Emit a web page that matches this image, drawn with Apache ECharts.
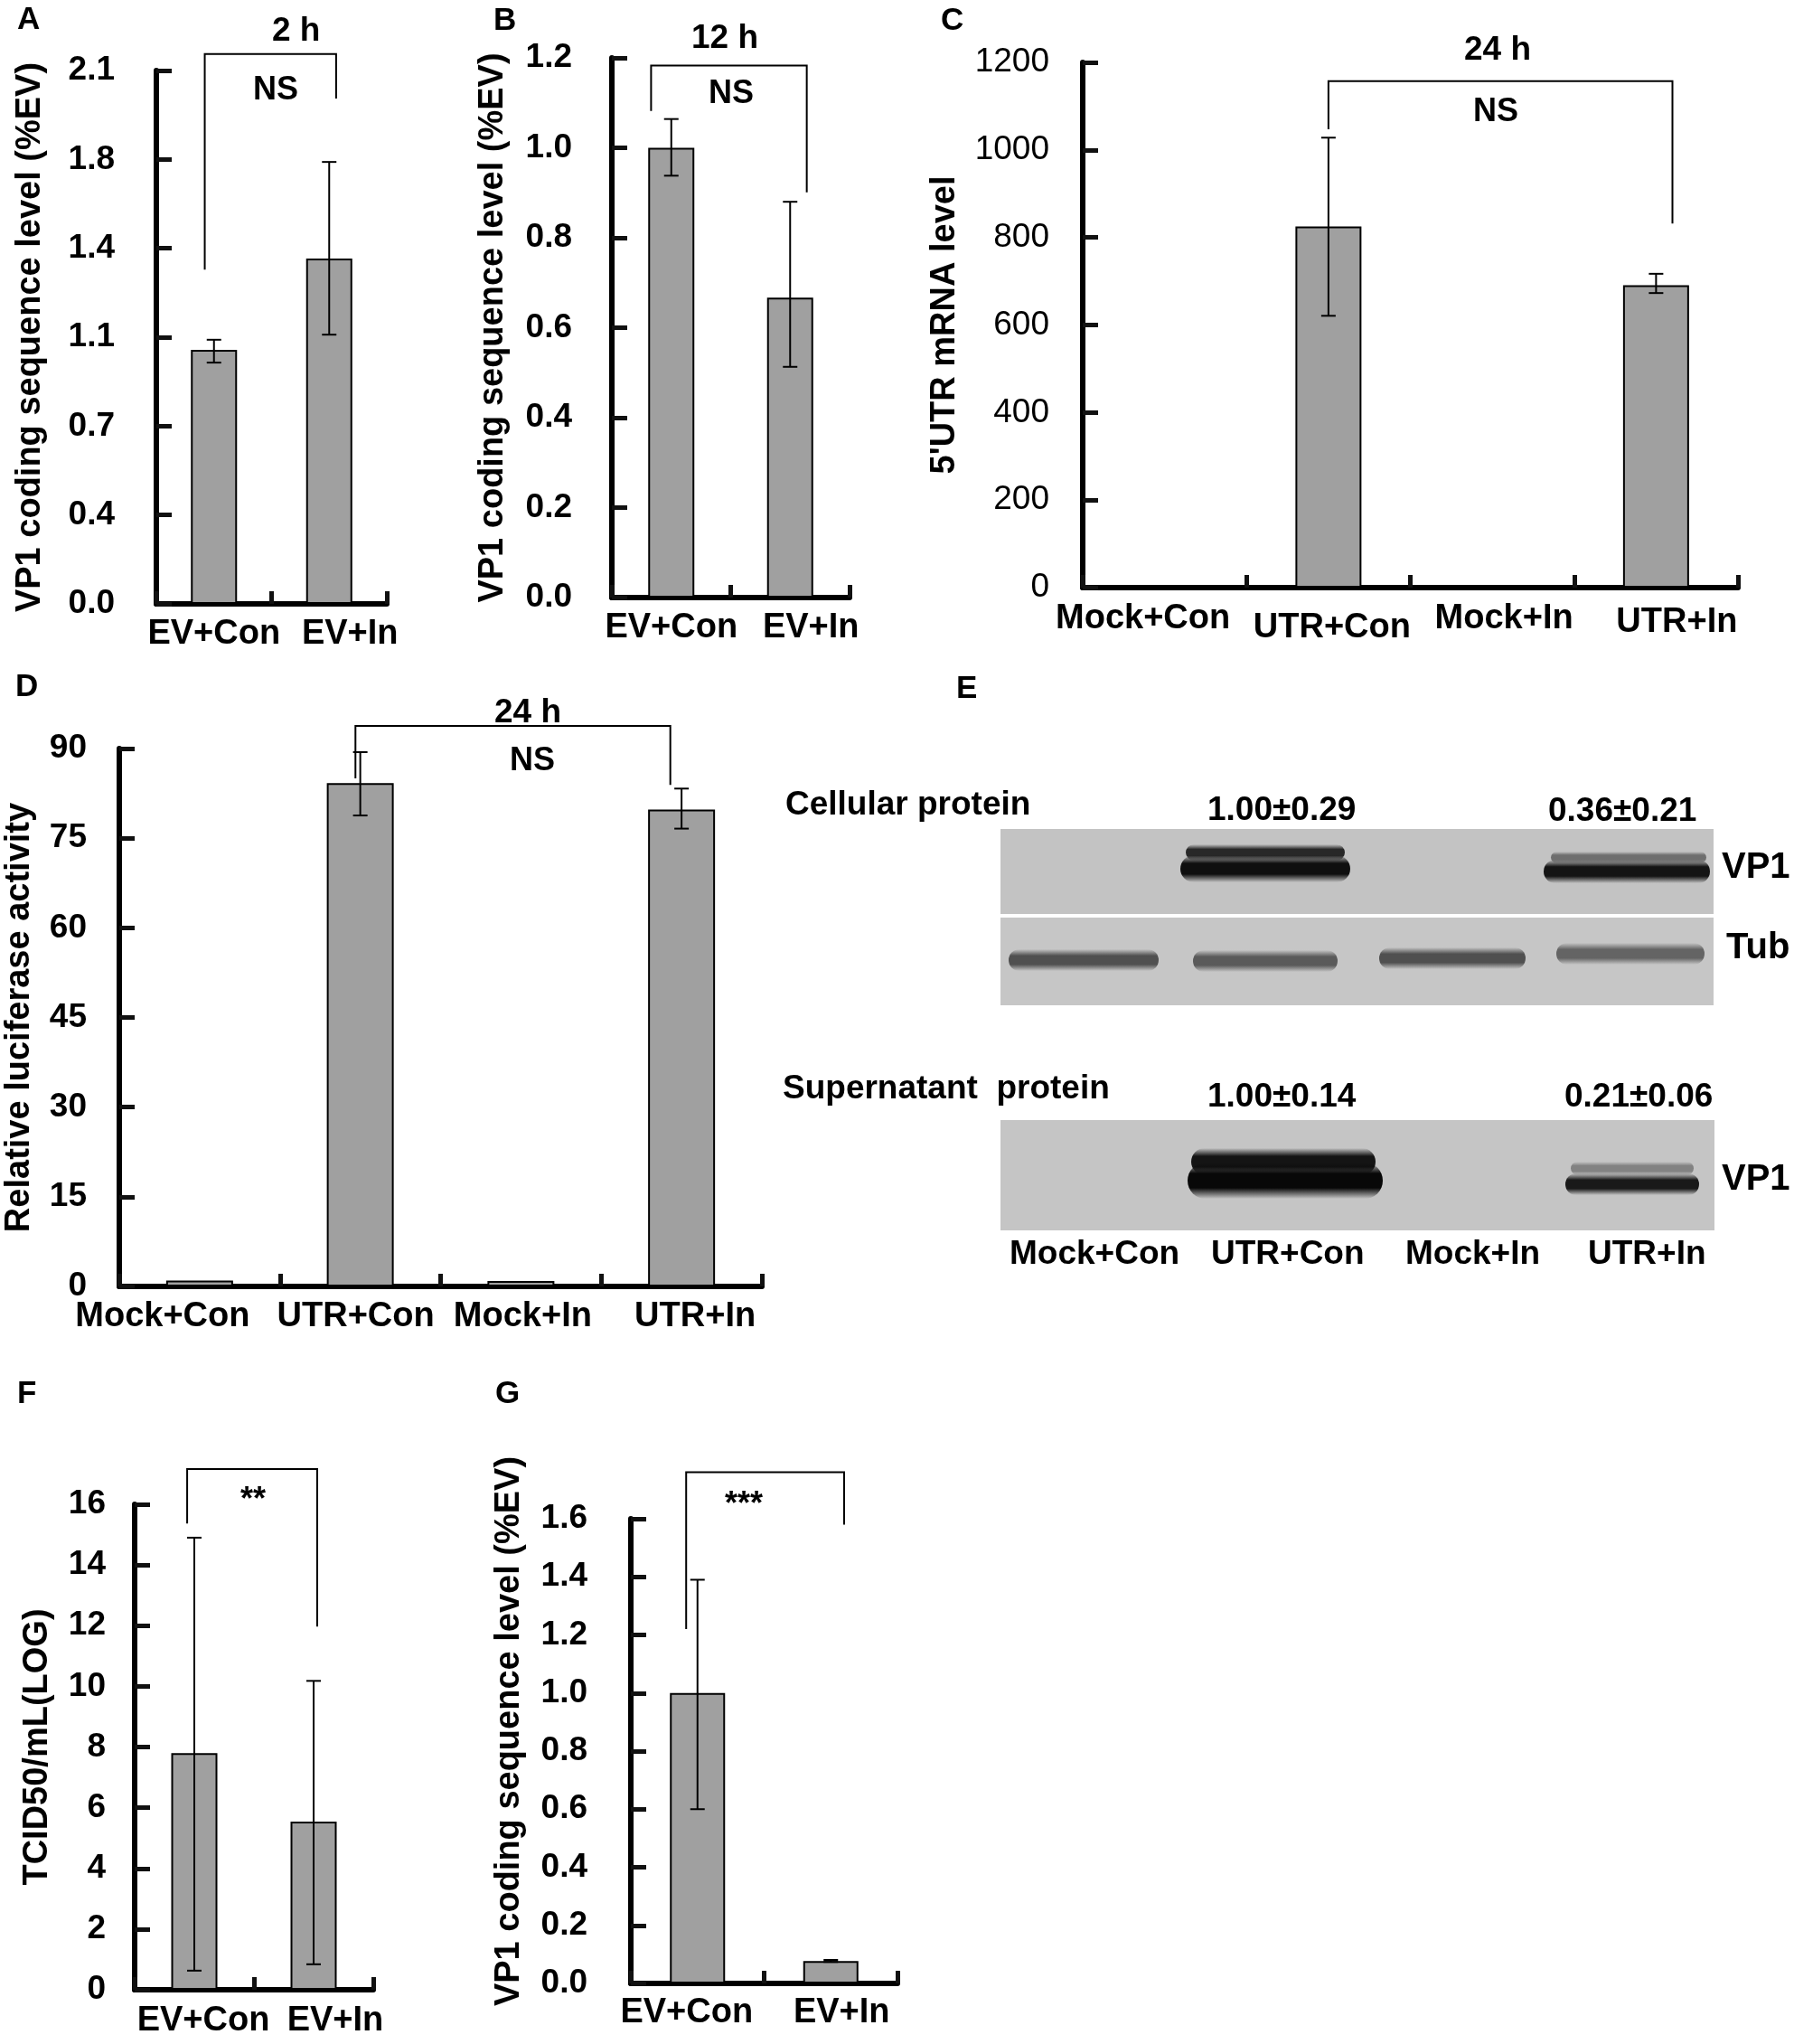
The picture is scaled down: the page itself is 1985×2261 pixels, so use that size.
<!DOCTYPE html>
<html>
<head>
<meta charset="utf-8">
<script src="https://cdn.jsdelivr.net/npm/echarts@6/dist/echarts.min.js"></script>
<style>
  html, body { margin: 0; padding: 0; background: #fff; }
  #chart { width: 1985px; height: 2261px; }
</style>
</head>
<body>
<div id="chart"></div>
<script>
var FONT = '"Liberation Sans", Arial, sans-serif';

// categories
var catsEV = ['EV+Con', 'EV+In'];
var catsUTR = ['Mock+Con', 'UTR+Con', 'Mock+In', 'UTR+In'];

// A - 2 h, VP1 coding sequence level
var aMean = [1.0, 1.36];
var aLow = [0.95, 1.06];
var aHigh = [1.04, 1.74];

// B - 12 h
var bMean = [1.0, 0.667];
var bLow = [0.938, 0.513];
var bHigh = [1.064, 0.88];

// C - 24 h, 5'UTR mRNA level
var cMean = [0, 825, 0, 691];
var cLow = [null, 621, null, 673];
var cHigh = [null, 1028, null, 717];

// D - 24 h, relative luciferase activity
var dMean = [1.0, 84.2, 0.9, 79.8];
var dLow = [null, 78.8, null, 76.6];
var dHigh = [null, 89.4, null, 83.3];

// F - TCID50/mL(LOG)
var fMean = [7.8, 5.54];
var fLow = [0.63, 0.84];
var fHigh = [14.9, 10.18];

// G - VP1 coding sequence level
var gMean = [1.0, 0.077];
var gLow = [0.60, 0.074];
var gHigh = [1.39, 0.081];

// significance brackets: [left cat, right cat, top, left leg end, right leg end]
var aBracket = [0, 1, 2.165, 1.316, 1.99];
var bBracket = [0, 1, 1.183, 1.082, 0.901];
var cBracket = [1, 3, 1157, 1047, 832];
var dBracket = [1, 3, 93.8, 85, 83.9];
var fBracket = [0, 1, 17.16, 15.37, 11.97];
var gBracket = [0, 1, 1.76, 1.22, 1.58];

// E - western blot densitometry labels
var eCellular = ['1.00\u00b10.29', '0.36\u00b10.21'];
var eSuper = ['1.00\u00b10.14', '0.21\u00b10.06'];

var chart = echarts.init(document.getElementById('chart'));

var grids = [], xAxes = [], yAxes = [], series = [];

// vertical error bar with caps
function errItem(params, api) {
  var x = api.value(0);
  var lo = api.coord([x, api.value(1)]);
  var hi = api.coord([x, api.value(2)]);
  var h = 8;
  var st = { stroke: '#000', lineWidth: 2 };
  return {
    type: 'group',
    children: [
      { type: 'line', shape: { x1: lo[0], y1: lo[1], x2: hi[0], y2: hi[1] }, style: st },
      { type: 'line', shape: { x1: lo[0] - h, y1: lo[1], x2: lo[0] + h, y2: lo[1] }, style: st },
      { type: 'line', shape: { x1: hi[0] - h, y1: hi[1], x2: hi[0] + h, y2: hi[1] }, style: st }
    ]
  };
}

// significance bracket, legs nudged by a fraction of the category width
function bracketItem(shift) {
  return function (params, api) {
    var cw = api.size([1, 0])[0];
    var l = api.coord([api.value(0), api.value(2)]);
    var r = api.coord([api.value(1), api.value(2)]);
    var lb = api.coord([api.value(0), api.value(3)]);
    var rb = api.coord([api.value(1), api.value(4)]);
    var xl = l[0] + shift[0] * cw;
    var xr = r[0] + shift[1] * cw;
    return {
      type: 'polyline',
      shape: { points: [[xl, lb[1]], [xl, l[1]], [xr, l[1]], [xr, rb[1]]] },
      style: { stroke: '#000', lineWidth: 2, fill: null }
    };
  };
}

// tick colour kept a hair off the axis-line colour (identical colours drew thin, tickless axes)
var AXIS_C = '#000';
var TICK_C = '#111';

function panel(p) {
  var i = grids.length;
  grids.push({ left: p.left, top: p.top, width: p.width, height: p.height });
  var catData = p.cats.map(function (c, k) {
    if (!p.shift) return c;
    var s = p.shift[k];
    return { value: c, textStyle: { padding: [s[1], s[0] < 0 ? -2 * s[0] : 0, 0, s[0] > 0 ? 2 * s[0] : 0] } };
  });
  xAxes.push({
    type: 'category', gridIndex: i, data: catData,
    axisLine: { lineStyle: { color: AXIS_C, width: 6 } },
    axisTick: { show: true, inside: true, length: 14, lineStyle: { color: TICK_C, width: 5 } },
    axisLabel: { interval: 0, margin: p.xMargin, color: '#000', fontFamily: FONT, fontWeight: 'bold', fontSize: 38 }
  });
  yAxes.push({
    type: 'value', gridIndex: i, min: 0, max: p.max, interval: p.interval,
    name: p.name, nameLocation: 'middle', nameRotate: 90, nameGap: p.nameGap,
    nameTextStyle: { color: '#000', fontFamily: FONT, fontWeight: 'bold', fontSize: 38, padding: p.namePad || 0 },
    axisLine: { show: true, lineStyle: { color: AXIS_C, width: 6 } },
    axisTick: { show: true, inside: true, length: 17, lineStyle: { color: TICK_C, width: 5 } },
    axisLabel: {
      margin: p.yMargin, color: '#000', fontFamily: FONT,
      fontWeight: p.lightTicks ? 'normal' : 'bold', fontSize: 37,
      formatter: p.fmt || function (v) { return String(v); }
    },
    splitLine: { show: false }
  });
  series.push({
    type: 'bar', xAxisIndex: i, yAxisIndex: i, data: p.mean, barWidth: p.barWidth,
    itemStyle: { color: '#a0a0a0', borderColor: '#000', borderWidth: 2 }
  });
  var err = [];
  p.low.forEach(function (v, k) { if (v !== null) err.push([k, v, p.high[k]]); });
  series.push({
    type: 'custom', xAxisIndex: i, yAxisIndex: i, data: err,
    encode: { x: 0, y: [1, 2] }, renderItem: errItem, z: 5
  });
  series.push({
    type: 'custom', xAxisIndex: i, yAxisIndex: i, data: [p.bracket],
    encode: { x: [0, 1], y: [2, 3, 4] }, renderItem: bracketItem(p.bracketShift),
    clip: false, z: 5
  });
}

function oneDec(v) { return (Math.round(v * 10 + 1e-6) / 10).toFixed(1); }

panel({ left: 173, top: 78, width: 255, height: 590, cats: catsEV, mean: aMean, low: aLow, high: aHigh,
  max: 2.1, interval: 0.35, fmt: oneDec, name: 'VP1 coding sequence level (%EV)', nameGap: 120,
  yMargin: 46, xMargin: 15, barWidth: 51, bracket: aBracket, bracketShift: [-0.08, 0.06],
  shift: [[0, 0], [23, 0]] });
panel({ left: 677, top: 64, width: 263, height: 597, cats: catsEV, mean: bMean, low: bLow, high: bHigh,
  max: 1.2, interval: 0.2, fmt: oneDec, name: 'VP1 coding sequence level (%EV)', nameGap: 112,
  yMargin: 44, xMargin: 15, barWidth: 51, bracket: bBracket, bracketShift: [-0.17, 0.14],
  shift: [[0, 0], [23, 0]] });
panel({ left: 1198, top: 69, width: 725, height: 581, cats: catsUTR, mean: cMean, low: cLow, high: cHigh,
  max: 1200, interval: 200, name: "5'UTR mRNA level", nameGap: 133, lightTicks: true,
  yMargin: 37, xMargin: 16, barWidth: 73, bracket: cBracket, bracketShift: [0, 0.10],
  shift: [[-24, 0], [4, 10], [13, 0], [23, 4]] });
panel({ left: 132, top: 828, width: 711, height: 595, cats: catsUTR, mean: dMean, low: dLow, high: dHigh,
  max: 90, interval: 15, name: 'Relative luciferase activity', nameGap: 91,
  yMargin: 36, xMargin: 15, barWidth: 74, bracket: dBracket, bracketShift: [-0.03, -0.07],
  shift: [[-41, 0], [-5, 0], [2, 0], [15, 0]] });
panel({ left: 149, top: 1664, width: 264, height: 537, cats: catsEV, mean: fMean, low: fLow, high: fHigh,
  max: 16, interval: 2, name: 'TCID50/mL(LOG)', nameGap: 88,
  yMargin: 32, xMargin: 16, barWidth: 51, bracket: fBracket, bracketShift: [-0.06, 0.03],
  shift: [[10, 0], [24, 0]] });
panel({ left: 698, top: 1680, width: 295, height: 514, cats: catsEV, mean: gMean, low: gLow, high: gHigh,
  max: 1.6, interval: 0.2, fmt: oneDec, name: 'VP1 coding sequence level (%EV)', nameGap: 115, namePad: [0, 0, 0, 44],
  yMargin: 48, xMargin: 14, barWidth: 61, bracket: gBracket, bracketShift: [-0.085, 0.10],
  shift: [[-12, 0], [12, 0]] });

// E: the blot picture, drawn by a custom series on a hidden full-page grid (pixel space)
var blotPanels = [
  [1107, 917, 789, 94, '#c3c3c3'],
  [1107, 1015, 789, 97, '#c6c6c6'],
  [1107, 1239, 790, 122, '#c5c5c5']
];
var blotBands = [
  [1312, 934, 176, 18, '40,40,40'],
  [1306, 946, 188, 30, '15,15,15'],
  [1716, 942, 172, 13, '110,110,110'],
  [1708, 951, 184, 26, '20,20,20'],
  [1116, 1050, 166, 24, '80,80,80'],
  [1320, 1051, 160, 24, '90,90,90'],
  [1526, 1048, 162, 24, '80,80,80'],
  [1722, 1043, 164, 24, '100,100,100'],
  [1318, 1270, 204, 30, '20,20,20'],
  [1314, 1286, 216, 40, '8,8,8'],
  [1738, 1285, 136, 15, '130,130,130'],
  [1732, 1298, 148, 24, '25,25,25']
];
var pg = grids.length;
grids.push({ left: 0, top: 0, width: 1985, height: 2261 });
xAxes.push({ type: 'value', gridIndex: pg, min: 0, max: 1985, show: false });
yAxes.push({ type: 'value', gridIndex: pg, min: 0, max: 2261, inverse: true, show: false });

function blotRect(list, soft) {
  return function (params, api) {
    var d = list[params.dataIndex];
    var p0 = api.coord([d[0], d[1]]);
    var p1 = api.coord([d[0] + d[2], d[1] + d[3]]);
    var fill = soft
      ? new echarts.graphic.LinearGradient(0, 0, 0, 1, [
          { offset: 0, color: 'rgba(' + d[4] + ',0)' },
          { offset: 0.3, color: 'rgba(' + d[4] + ',1)' },
          { offset: 0.7, color: 'rgba(' + d[4] + ',1)' },
          { offset: 1, color: 'rgba(' + d[4] + ',0)' }])
      : d[4];
    return {
      type: 'rect',
      shape: { x: p0[0], y: p0[1], width: p1[0] - p0[0], height: p1[1] - p0[1], r: soft ? (p1[1] - p0[1]) / 2 : 0 },
      style: { fill: fill }
    };
  };
}
series.push({
  type: 'custom', xAxisIndex: pg, yAxisIndex: pg, z: 1, clip: false,
  data: blotPanels.map(function (d) { return [d[0], d[1]]; }), encode: { x: 0, y: 1 },
  renderItem: blotRect(blotPanels, false)
});
series.push({
  type: 'custom', xAxisIndex: pg, yAxisIndex: pg, z: 2, clip: false,
  data: blotBands.map(function (d) { return [d[0], d[1]]; }), encode: { x: 0, y: 1 },
  renderItem: blotRect(blotBands, true)
});

// free text as title components, centred by measuring the string
var mctx = document.createElement('canvas').getContext('2d');
function lbl(s, x, y, size, weight, align) {
  weight = weight || 'bold';
  mctx.font = weight + ' ' + size + 'px ' + FONT;
  var w = mctx.measureText(s).width;
  var left = align === 'left' ? x : x - w / 2;
  return {
    text: s, left: Math.round(left), top: Math.round(y - size / 2), padding: 0,
    textStyle: { fontFamily: FONT, fontWeight: weight, fontSize: size, color: '#000', lineHeight: size }
  };
}

var titles = [
  lbl('A', 32, 22, 35), lbl('B', 559, 23, 35), lbl('C', 1054, 23, 35),
  lbl('D', 30, 760, 35), lbl('E', 1070, 762, 35), lbl('F', 30, 1542, 35), lbl('G', 562, 1542, 35),
  lbl('2 h', 328, 34, 37), lbl('NS', 305, 100, 36),
  lbl('12 h', 802, 42, 37), lbl('NS', 809, 104, 36),
  lbl('24 h', 1657, 55, 37), lbl('NS', 1655, 124, 36),
  lbl('24 h', 584, 788, 37), lbl('NS', 589, 842, 36),
  lbl('**', 280, 1660, 36), lbl('***', 823, 1665, 36),
  lbl('Cellular protein', 869, 890, 37, 'bold', 'left'),
  lbl(eCellular[0], 1418, 896, 37), lbl(eCellular[1], 1795, 897, 37),
  lbl('VP1', 1905, 960, 40, 'bold', 'left'),
  lbl('Tub', 1910, 1049, 40, 'bold', 'left'),
  lbl('Supernatant  protein', 866, 1204, 37, 'bold', 'left'),
  lbl(eSuper[0], 1418, 1213, 37), lbl(eSuper[1], 1813, 1213, 37),
  lbl('VP1', 1905, 1305, 40, 'bold', 'left'),
  lbl(catsUTR[0], 1211, 1387, 37), lbl(catsUTR[1], 1425, 1387, 37),
  lbl(catsUTR[2], 1630, 1387, 37), lbl(catsUTR[3], 1822, 1387, 37)
];

chart.setOption({
  animation: false,
  title: titles,
  grid: grids,
  xAxis: xAxes,
  yAxis: yAxes,
  series: series
});
</script>
</body>
</html>
